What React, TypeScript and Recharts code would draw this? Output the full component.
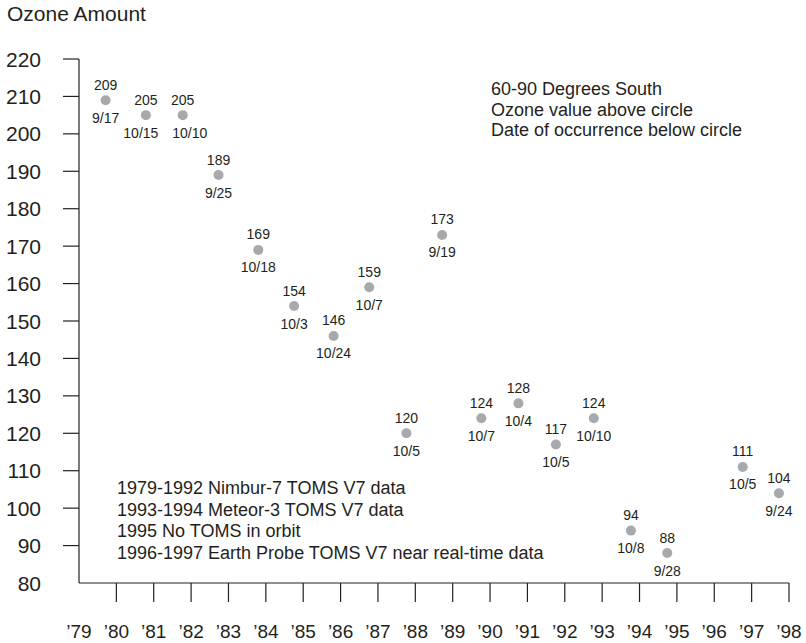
import React from 'react';
import { ScatterChart, Scatter, XAxis, YAxis, Customized } from 'recharts';

const FONT = '"Liberation Sans", Arial, Helvetica, sans-serif';
const INK = '#231f20';
const DOT = '#a7a9ac';

const years = [1979, 1980, 1981, 1982, 1983, 1984, 1985, 1986, 1987, 1988, 1989, 1990, 1991, 1992, 1993, 1994, 1996, 1997];
const ozoneValues = [209, 205, 205, 189, 169, 154, 146, 159, 120, 173, 124, 128, 117, 124, 94, 88, 111, 104];
const occurrenceDates = ['9/17', '10/15', '10/10', '9/25', '10/18', '10/3', '10/24', '10/7', '10/5', '9/19', '10/7', '10/4', '10/5', '10/10', '10/8', '9/28', '10/5', '9/24'];

const xTickYears = [1979, 1980, 1981, 1982, 1983, 1984, 1985, 1986, 1987, 1988, 1989, 1990, 1991, 1992, 1993, 1994, 1995, 1996, 1997, 1998];
const xTickLabels = ['’79', '’80', '’81', '’82', '’83', '’84', '’85', '’86', '’87', '’88', '’89', '’90', '’91', '’92', '’93', '’94', '’95', '’96', '’97', '’98'];
const yTicks = [80, 90, 100, 110, 120, 130, 140, 150, 160, 170, 180, 190, 200, 210, 220];

const yAxisTitle = 'Ozone Amount';
const regionNotes = ['60-90 Degrees South', 'Ozone value above circle', 'Date of occurrence below circle'];
const sourceNotes = [
  '1979-1992 Nimbur-7 TOMS V7 data',
  '1993-1994 Meteor-3 TOMS V7 data',
  '1995 No TOMS in orbit',
  '1996-1997 Earth Probe TOMS V7 near real-time data',
];

// small horizontal nudges for date labels that would otherwise collide (style only)
const dateLabelNudge: Record<number, number> = { 1980: -5, 1981: 7 };

const monthStarts = [0, 31, 59, 90, 120, 151, 181, 212, 243, 273, 304, 334];
const fractionalYear = (year: number, date: string) => {
  const [m, d] = date.split('/').map(Number);
  return year + (monthStarts[m - 1] + d) / 365;
};

const data = years.map((y, i) => ({
  year: y,
  x: fractionalYear(y, occurrenceDates[i]),
  value: ozoneValues[i],
  date: occurrenceDates[i],
}));

const XTick = (props: any) => {
  const { x, y, payload } = props;
  const idx = xTickYears.indexOf(payload.value);
  return (
    <g>
      {payload.value !== xTickYears[0] && (
        <line x1={x} x2={x} y1={y - 19} y2={y} stroke={INK} strokeWidth={1.2} />
      )}
      <text x={x} y={y + 36} textAnchor="middle" fontFamily={FONT} fontSize={19} fill={INK}>
        {xTickLabels[idx]}
      </text>
    </g>
  );
};

const YTick = (props: any) => {
  const { x, y, payload } = props;
  return (
    <g>
      {payload.value !== yTicks[0] && (
        <line x1={x} x2={x + 16} y1={y} y2={y} stroke={INK} strokeWidth={1.2} />
      )}
      <text x={x - 22} y={y + 7.5} textAnchor="end" fontFamily={FONT} fontSize={21} fill={INK}>
        {payload.value}
      </text>
    </g>
  );
};

const PointShape = (props: any) => {
  const { cx, cy, payload } = props;
  const nudge = dateLabelNudge[payload.year] || 0;
  return (
    <g>
      <circle cx={cx} cy={cy} r={5} fill={DOT} />
      <text x={cx} y={cy - 10.5} textAnchor="middle" fontFamily={FONT} fontSize={14} fill={INK}>
        {payload.value}
      </text>
      <text x={cx + nudge} y={cy + 22.5} textAnchor="middle" fontFamily={FONT} fontSize={14} fill={INK}>
        {payload.date}
      </text>
    </g>
  );
};

const Annotations = () => (
  <g fontFamily={FONT} fill={INK}>
    <text x={7} y={21} fontSize={21}>{yAxisTitle}</text>
    {regionNotes.map((t, i) => (
      <text key={t} x={491} y={95 + i * 20.5} fontSize={18}>{t}</text>
    ))}
    {sourceNotes.map((t, i) => (
      <text key={t} x={117} y={494 + i * 21.7} fontSize={18}>{t}</text>
    ))}
  </g>
);

export default function App() {
  return (
    <div style={{ position: 'absolute', left: 0, top: 0, width: 806, height: 643, background: '#fff' }}>
      <ScatterChart width={806} height={643} margin={{ top: 59, right: 17, bottom: 0, left: 0 }}>
        <XAxis
          type="number"
          dataKey="x"
          domain={[1979, 1998]}
          ticks={xTickYears}
          interval={0}
          height={60}
          tickSize={19}
          tickMargin={0}
          tickLine={false}
          axisLine={{ stroke: INK, strokeWidth: 1.2 }}
          tick={<XTick />}
        />
        <YAxis
          type="number"
          dataKey="value"
          domain={[80, 220]}
          ticks={yTicks}
          interval={0}
          width={79}
          tickSize={16}
          tickMargin={0}
          tickLine={false}
          axisLine={{ stroke: INK, strokeWidth: 1.2 }}
          tick={<YTick />}
        />
        <Scatter data={data} dataKey="value" shape={<PointShape />} isAnimationActive={false} />
        <Customized component={<Annotations />} />
      </ScatterChart>
    </div>
  );
}
